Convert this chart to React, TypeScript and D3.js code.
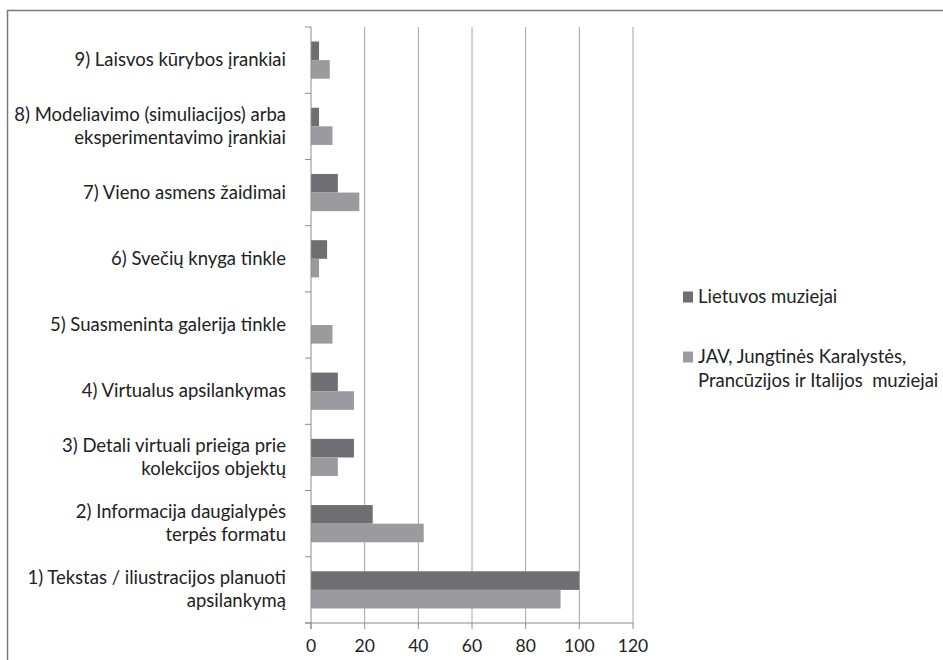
import React from "react";
import * as d3 from "d3";

// categories from bottom (1) to top (9), each label split into lines
const categories = [
  ["1) Tekstas / iliustracijos planuoti", "apsilankymą"],
  ["2) Informacija daugialypės", "terpės formatu"],
  ["3) Detali virtuali prieiga prie", "kolekcijos objektų"],
  ["4) Virtualus apsilankymas"],
  ["5) Suasmeninta galerija tinkle"],
  ["6) Svečių knyga tinkle"],
  ["7) Vieno asmens žaidimai"],
  ["8) Modeliavimo (simuliacijos) arba", "eksperimentavimo įrankiai"],
  ["9) Laisvos kūrybos įrankiai"],
];
const lietuvos = [100, 23, 16, 10, 0, 6, 10, 3, 3];
const uzsienio = [93, 42, 10, 16, 8, 3, 18, 8, 7];
const seriesNames = [
  ["Lietuvos muziejai"],
  ["JAV, Jungtinės Karalystės,", "Prancūzijos ir Italijos  muziejai"],
];
const xTicks = [0, 20, 40, 60, 80, 100, 120];

const colors = ["#6f6f73", "#9b9b9f"];
const font = "Lato, 'Open Sans', sans-serif";

function App() {
  const width = 943;
  const height = 660;
  const margin = { top: 27, left: 311, right: 310, bottom: 37 };
  const plotBottom = height - margin.bottom;

  const x = d3.scaleLinear().domain([0, 120]).range([margin.left, 633]);
  const idx = d3.range(categories.length);
  // top category (9) first
  const y = d3
    .scaleBand<number>()
    .domain(idx.slice().reverse())
    .range([margin.top, plotBottom]);
  const step = y.step();
  const barH = 18.6;
  const groupPad = (step - barH * 2) / 2;

  const series = [lietuvos, uzsienio];

  return (
    <svg
      width={width}
      height={height}
      style={{ position: "absolute", left: 0, top: 0, background: "#fff" }}
    >
      {/* outer frame */}
      <path d={`M7.5,${height + 2}V10.5H${width + 2}`} fill="none" stroke="#7a7a7a" strokeWidth={1.5} />

      {/* vertical gridlines */}
      {xTicks.slice(1).map((t) => (
        <line key={t} x1={x(t)} x2={x(t)} y1={margin.top} y2={plotBottom} stroke="#a6a6a6" strokeWidth={1} />
      ))}

      {/* bars */}
      {idx.map((i) =>
        series.map((s, k) => (
          <rect
            key={`${i}-${k}`}
            x={x(0)}
            y={(y(i) as number) + groupPad + k * barH}
            width={x(s[i]) - x(0)}
            height={barH}
            fill={colors[k]}
          />
        ))
      )}

      {/* y axis */}
      <line x1={x(0)} x2={x(0)} y1={margin.top} y2={plotBottom + 6} stroke="#8c8c8c" />
      {idx.map((i) => (
        <line key={i} x1={x(0) - 6} x2={x(0)} y1={y(i)} y2={y(i)} stroke="#8c8c8c" />
      ))}
      <line x1={x(0) - 6} x2={x(0)} y1={plotBottom} y2={plotBottom} stroke="#8c8c8c" />

      {/* x axis */}
      <line x1={x(0) - 6} x2={x(120)} y1={plotBottom} y2={plotBottom} stroke="#8c8c8c" />
      {xTicks.map((t) => (
        <g key={t}>
          <line x1={x(t)} x2={x(t)} y1={plotBottom} y2={plotBottom + 6} stroke="#8c8c8c" />
          <text
            x={x(t)}
            y={plotBottom + 29}
            textAnchor="middle"
            fontFamily={font}
            fontSize={17.5}
            fill="#222"
          >
            {t}
          </text>
        </g>
      ))}

      {/* category labels */}
      {idx.map((i) => {
        const lines = categories[i];
        const cy = (y(i) as number) + step / 2;
        const lh = 23;
        return (
          <text key={i} fontFamily={font} fontSize={18.5} fill="#222" textAnchor="end">
            {lines.map((l, j) => (
              <tspan key={j} x={286} y={cy + (j - (lines.length - 1) / 2) * lh + 6}>
                {l}
              </tspan>
            ))}
          </text>
        );
      })}

      {/* legend */}
      {seriesNames.map((lines, k) => {
        const ly = 297 + k * 60;
        return (
          <g key={k}>
            <rect x={683} y={ly - 5.5} width={10} height={11} fill={colors[k]} />
            <text fontFamily={font} fontSize={18.5} fill="#222" style={{ whiteSpace: "pre" }}>
              {lines.map((l, j) => (
                <tspan key={j} x={698} y={ly + 6 + j * 24}>
                  {l}
                </tspan>
              ))}
            </text>
          </g>
        );
      })}
    </svg>
  );
}

export default App;
